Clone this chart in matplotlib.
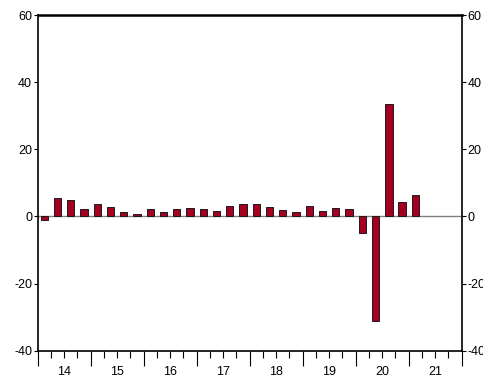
import numpy as np
import matplotlib.pyplot as plt
from matplotlib.transforms import blended_transform_factory

plt.rcParams['font.family'] = ['Liberation Sans', 'DejaVu Sans']

# quarterly values, 2014Q1 .. 2021Q1
quarters = [f"{y}Q{q}" for y in range(2014, 2022) for q in range(1, 5)][:29]
values = [-1.2, 5.4, 4.9, 2.2,
          3.7, 2.8, 1.4, 0.7,
          2.1, 1.2, 2.1, 2.4,
          2.1, 1.6, 3.0, 3.7,
          3.7, 2.8, 2.0, 1.3,
          3.1, 1.5, 2.5, 2.2,
          -4.9, -31.3, 33.5, 4.3,
          6.3]
year_labels = ["14", "15", "16", "17", "18", "19", "20", "21"]
y_ticks = [-40, -20, 0, 20, 40, 60]

bar_color = "#a50021"

fig = plt.figure(figsize=(4.83, 3.77), dpi=100)
ax = fig.add_axes([0.078, 0.070, 0.878, 0.890])

x = np.arange(len(values)) + 0.5
ax.axhline(0, color="#808080", lw=1.0, zorder=1)
ax.bar(x, values, width=0.55, color=bar_color, edgecolor="#1a1a1a",
       linewidth=0.7, zorder=2)

n_q = 4 * len(year_labels)
ax.set_xlim(0, n_q)
ax.set_ylim(-40, 60)

# y axis on both sides
ax.set_yticks(y_ticks)
ax.set_yticklabels([str(v) for v in y_ticks])
ax.tick_params(axis="y", which="major", direction="out", length=3, width=0.8,
               labelsize=9, pad=1, left=True, right=True,
               labelleft=True, labelright=True)

# x axis: long ticks at years, short ticks at quarters
ax.set_xticks(np.arange(0, n_q + 1, 4))
ax.set_xticks(np.arange(0, n_q + 1), minor=True)
ax.set_xticklabels([])
ax.tick_params(axis="x", which="major", direction="out", length=11, width=0.8)
ax.tick_params(axis="x", which="minor", direction="out", length=5, width=0.8)

trans = blended_transform_factory(ax.transData, ax.transAxes)
for i, lab in enumerate(year_labels):
    ax.text(4 * i + 2, -0.045, lab, transform=trans, ha="center", va="top",
            fontsize=9)

for side in ["left", "right", "bottom"]:
    ax.spines[side].set_linewidth(1.2)
ax.spines["top"].set_linewidth(1.8)

fig.savefig("out.png", dpi=100)
